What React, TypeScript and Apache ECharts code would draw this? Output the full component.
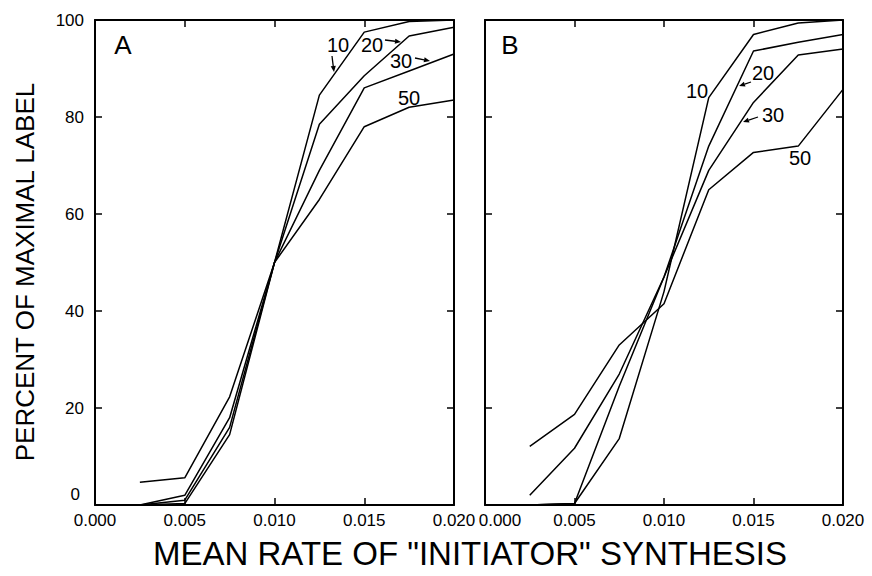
import React, { useEffect, useRef } from "react";
import * as echarts from "echarts";

// Mean rate of "initiator" synthesis (x) sampled for every curve
const rates = [0.0025, 0.005, 0.0075, 0.01, 0.0125, 0.015, 0.0175, 0.02];

// Panel A: percent of maximal label for curves 10, 20, 30, 50
const a10 = [0, 0.3, 14.5, 50, 84.5, 97.5, 99.7, 100];
const a20 = [0, 1.0, 16, 50, 78.5, 88.5, 96.7, 98.5];
const a30 = [0, 2.0, 18, 50, 69, 86, 89.5, 93];
const a50 = [4.7, 5.6, 22.3, 50, 63, 78, 82, 83.5];

// Panel B
const b10 = [0, 0.3, 13.7, 44, 84, 97, 99.4, 100];
const b20 = [0, 0.3, 24.5, 47, 74, 93.6, 95.4, 97];
const b30 = [2, 11.7, 27, 47, 69, 83, 92.8, 94];
const b50 = [12.1, 18.7, 33, 41.5, 65, 72.7, 74, 85.7];

const curveNames = ["10", "20", "30", "50"];
const xTickLabels = ["0.000", "0.005", "0.010", "0.015", "0.020"];
const yTickLabels = ["0", "20", "40", "60", "80", "100"];

const FONT = "'Liberation Sans Narrow', 'Liberation Sans', Arial, sans-serif";
const FONT_W = "'Liberation Sans', Arial, sans-serif";

function arrow(x1: number, y1: number, x2: number, y2: number) {
  const ang = Math.atan2(y2 - y1, x2 - x1);
  const L = 6;
  const W = 2.6;
  const bx = x2 - L * Math.cos(ang);
  const by = y2 - L * Math.sin(ang);
  const px = -Math.sin(ang) * W;
  const py = Math.cos(ang) * W;
  return [
    {
      type: "line",
      shape: { x1, y1, x2: bx, y2: by },
      style: { stroke: "#000", lineWidth: 1.3 },
      silent: true,
    },
    {
      type: "polygon",
      shape: { points: [[x2, y2], [bx + px, by + py], [bx - px, by - py]] },
      style: { fill: "#000" },
      silent: true,
    },
  ];
}

function label(text: string, x: number, y: number, size = 20, font = FONT) {
  return {
    type: "text",
    x,
    y,
    silent: true,
    style: {
      text,
      fill: "#000",
      font: `${size}px ${font}`,
      align: "center",
      verticalAlign: "middle",
    },
  };
}

export default function App() {
  const ref = useRef<HTMLDivElement>(null);

  useEffect(() => {
    if (!ref.current) return;
    const chart = echarts.init(ref.current, undefined, { renderer: "svg" });

    const axisLine = { show: true, onZero: false, lineStyle: { color: "#000", width: 2 } };
    const axisTick = { show: true, inside: true, length: 7, lineStyle: { color: "#000", width: 1.5 } };

    const xAxisFor = (grid: number, position: "bottom" | "top", labels: boolean, shiftFirst: boolean) => ({
      type: "value",
      gridIndex: grid,
      position,
      min: 0,
      max: 0.02,
      interval: 0.005,
      axisLine,
      axisTick,
      splitLine: { show: false },
      axisLabel: {
        show: labels,
        showMinLabel: true,
        showMaxLabel: true,
        margin: 7,
        color: "#000",
        fontFamily: FONT,
        fontSize: 17,
        formatter: (v: number) => {
          const idx = Math.round(v / 0.005);
          const t = xTickLabels[idx] ?? v.toFixed(3);
          return shiftFirst && idx === 0 ? `{s|${t}}` : t;
        },
        rich: { s: { padding: [0, 0, 0, 30], fontFamily: FONT, fontSize: 17, color: "#000" } },
      },
    });

    const yAxisFor = (grid: number, position: "left" | "right", labels: boolean) => ({
      type: "value",
      gridIndex: grid,
      position,
      min: 0,
      max: 100,
      interval: 20,
      axisLine,
      axisTick,
      splitLine: { show: false },
      axisLabel: {
        show: labels,
        showMinLabel: true,
        showMaxLabel: true,
        margin: 11,
        color: "#000",
        fontFamily: FONT,
        fontSize: 17,
        formatter: (v: number) => {
          const t = yTickLabels[Math.round(v / 20)] ?? String(v);
          return v === 0 ? `{z|${t}}` : t;
        },
        rich: { z: { padding: [0, 4, 22, 0], fontFamily: FONT, fontSize: 17, color: "#000" } },
      },
    });

    const panelA = [a10, a20, a30, a50];
    const panelB = [b10, b20, b30, b50];
    const mk = (vals: number[], name: string, xi: number, yi: number) => ({
      type: "line",
      name,
      xAxisIndex: xi,
      yAxisIndex: yi,
      data: rates.map((r, i) => [r, vals[i]]),
      symbol: "none",
      showSymbol: false,
      silent: true,
      lineStyle: { color: "#000", width: 1.5 },
    });

    chart.setOption({
      animation: false,
      backgroundColor: "#fff",
      grid: [
        { left: 95, top: 20, width: 359, height: 485 },
        { left: 485, top: 20, width: 358, height: 485 },
      ],
      xAxis: [
        xAxisFor(0, "bottom", true, false),
        xAxisFor(0, "top", false, false),
        xAxisFor(1, "bottom", true, true),
        xAxisFor(1, "top", false, false),
      ],
      yAxis: [
        yAxisFor(0, "left", true),
        yAxisFor(0, "right", false),
        yAxisFor(1, "left", false),
        yAxisFor(1, "right", false),
      ],
      series: [
        ...panelA.map((v, i) => mk(v, "A " + curveNames[i], 0, 0)),
        ...panelB.map((v, i) => mk(v, "B " + curveNames[i], 2, 2)),
      ],
      graphic: [
        label("A", 123, 45, 26, FONT_W),
        label("B", 510, 45, 26, FONT_W),
        label(curveNames[0], 338, 45),
        label(curveNames[1], 372, 45),
        label(curveNames[2], 401, 61),
        label(curveNames[3], 409, 98),
        ...arrow(332, 56, 334, 72),
        ...arrow(385, 40, 401, 42),
        ...arrow(415, 58, 430, 61),
        label(curveNames[0], 697, 91),
        label(curveNames[1], 763, 73),
        label(curveNames[2], 773, 115),
        label(curveNames[3], 800, 158),
        ...arrow(751, 82, 739, 86),
        ...arrow(758, 117, 743, 122),
        {
          type: "text",
          x: 25,
          y: 272,
          rotation: Math.PI / 2,
          silent: true,
          style: {
            text: "PERCENT OF MAXIMAL LABEL",
            fill: "#000",
            font: `26px ${FONT_W}`,
            align: "center",
            verticalAlign: "middle",
          },
        },
        {
          type: "text",
          x: 470,
          y: 553,
          silent: true,
          style: {
            text: 'MEAN RATE OF "INITIATOR" SYNTHESIS',
            fill: "#000",
            font: `33px ${FONT_W}`,
            align: "center",
            verticalAlign: "middle",
          },
        },
      ],
    });

    return () => chart.dispose();
  }, []);

  return (
    <div
      ref={ref}
      style={{ position: "absolute", left: 0, top: 0, width: 872, height: 576, background: "#fff" }}
    />
  );
}
